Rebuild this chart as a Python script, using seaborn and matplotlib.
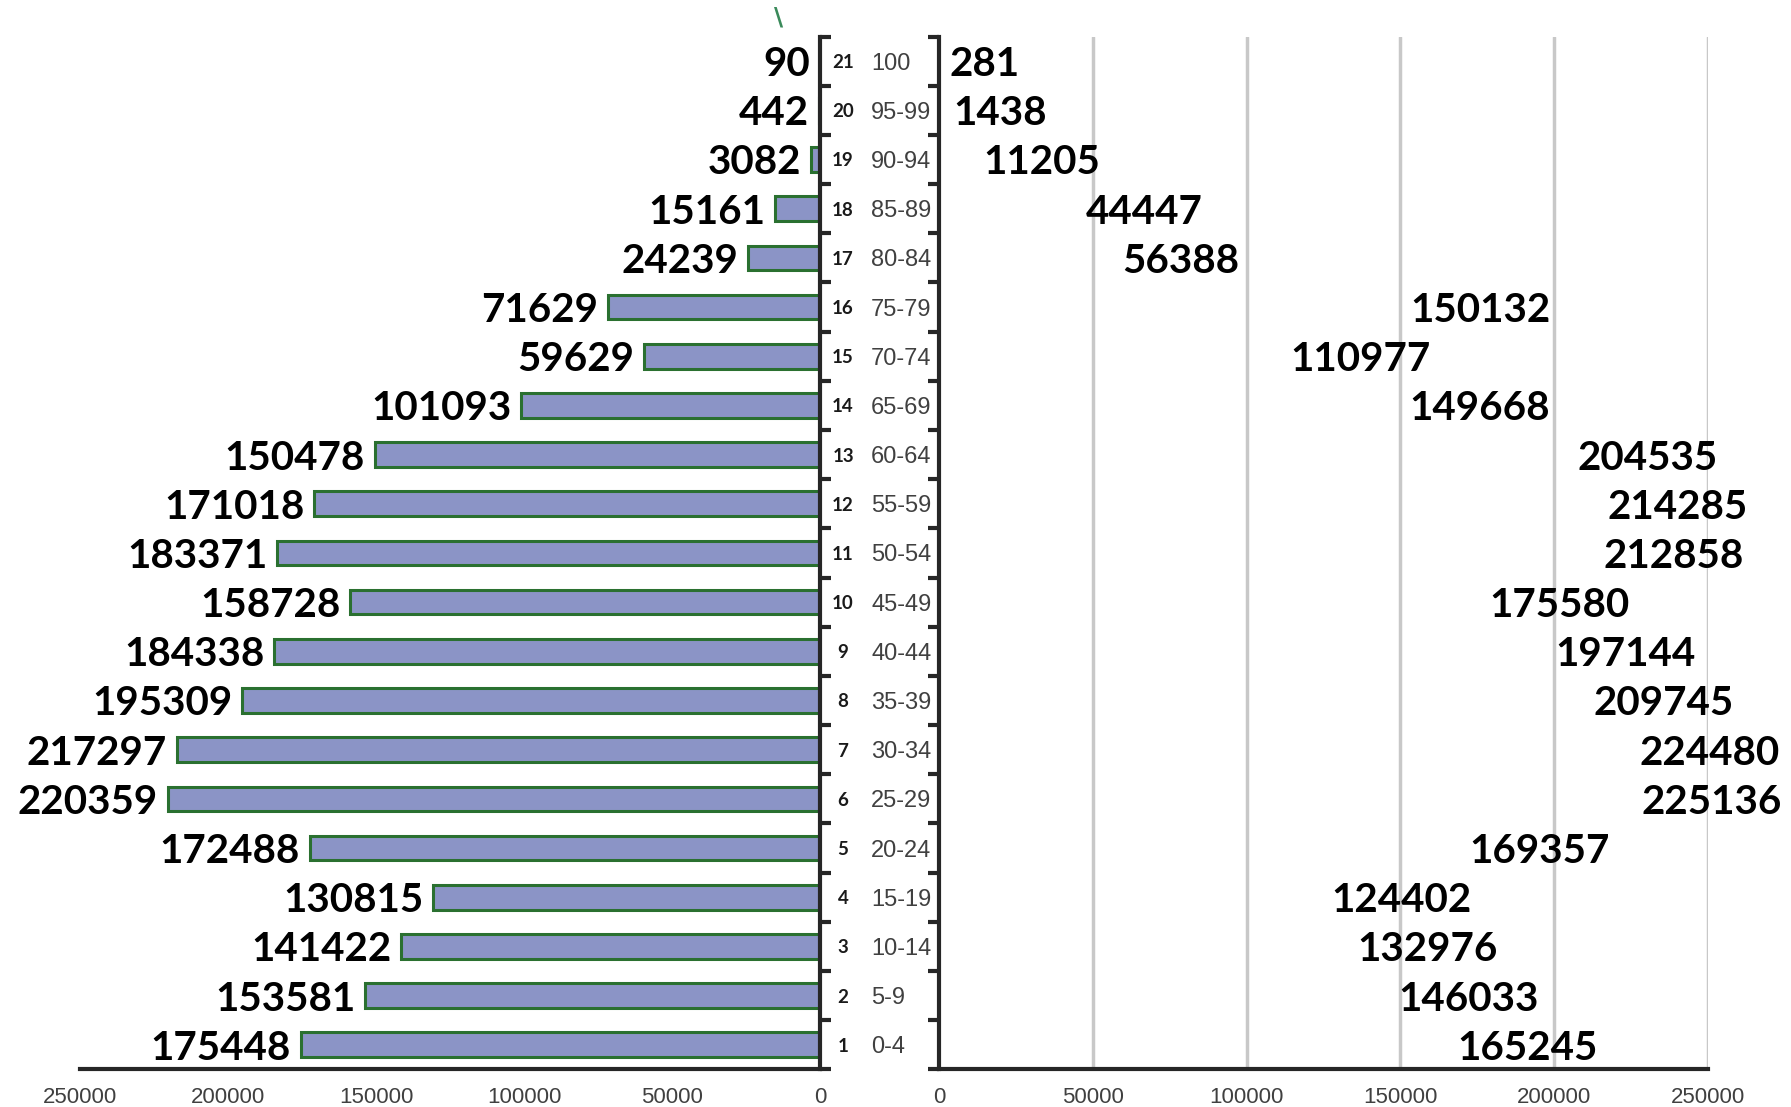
import numpy as np
import pandas as pd
import matplotlib.pyplot as plt
import seaborn as sns

# age groups bottom -> top
age_groups = ["0-4", "5-9", "10-14", "15-19", "20-24", "25-29", "30-34", "35-39",
              "40-44", "45-49", "50-54", "55-59", "60-64", "65-69", "70-74", "75-79",
              "80-84", "85-89", "90-94", "95-99", "100"]
group_no = list(range(1, 22))
left_vals = [175448, 153581, 141422, 130815, 172488, 220359, 217297, 195309,
             184338, 158728, 183371, 171018, 150478, 101093, 59629, 71629,
             24239, 15161, 3082, 442, 90]
right_vals = [165245, 146033, 132976, 124402, 169357, 225136, 224480, 209745,
              197144, 175580, 212858, 214285, 204535, 149668, 110977, 150132,
              56388, 44447, 11205, 1438, 281]
x_ticks = [0, 50000, 100000, 150000, 200000, 250000]

df = pd.DataFrame({"age": age_groups, "no": group_no,
                   "left": left_vals, "right": right_vals})
order = age_groups[::-1]  # top row first
by_age = df.set_index("age").loc[order]

sns.set_style("white")
plt.rcParams["font.family"] = ["Lato", "DejaVu Sans"]
tick_font = ["Liberation Sans Narrow", "Liberation Sans", "DejaVu Sans"]

fig = plt.figure(figsize=(17.91, 11.07), dpi=100)
bottom, height = 0.0340, 0.9330
ax_l = fig.add_axes([0.0447, bottom, 0.4132, height])
ax_r = fig.add_axes([0.5243, bottom, 0.4294, height])

sns.barplot(data=df, x="left", y="age", order=order, orient="h", ax=ax_l,
            color="#8B94C6", edgecolor="#2A7030", linewidth=2.2, width=0.5,
            saturation=1)
sns.barplot(data=df, x="right", y="age", order=order, orient="h", ax=ax_r,
            color="white", alpha=0, width=0.5)

ax_l.set_xlim(250000, 0)
ax_r.set_xlim(0, 250000)
for ax in (ax_l, ax_r):
    ax.set_ylim(20.5, -0.5)
    ax.set_xlabel("")
    ax.set_ylabel("")
    ax.set_yticks(np.arange(-0.5, 21, 1))
    ax.set_yticklabels([])
    ax.set_xticks(x_ticks)
    ax.set_xticklabels([str(t) for t in x_ticks], family=tick_font,
                       fontsize=16, color="#404040")
    ax.tick_params(axis="x", direction="inout", length=12, width=3, pad=7)
    ax.tick_params(axis="y", direction="out", length=8, width=3)
    ax.spines["top"].set_visible(False)
    ax.spines["bottom"].set_linewidth(3)

# left panel: axis line on the right side
ax_l.spines["left"].set_visible(False)
ax_l.spines["right"].set_linewidth(3)
ax_l.yaxis.tick_right()

# right panel: axis line on the left, grey gridlines
ax_r.spines["right"].set_visible(False)
ax_r.spines["left"].set_linewidth(3)
ax_r.yaxis.tick_left()
for t in x_ticks[1:]:
    ax_r.axvline(t, color="#C8C8C8", linewidth=2.5, zorder=0)

# value labels
ax_l.bar_label(ax_l.containers[0], labels=[f"{v}" for v in by_age["left"]],
               padding=7, fontsize=29, fontweight="bold", color="black")
ax_r.bar_label(ax_r.containers[0], labels=[f"{v}" for v in by_age["right"]],
               padding=7, fontsize=29, fontweight="bold", color="black")
for ax in (ax_l, ax_r):
    for t in ax.texts:
        t.set_va("center_baseline")

# middle labels: group number and age range
for i, age in enumerate(order):
    no = by_age.loc[age, "no"]
    ax_l.text(1.031, i, str(no), transform=ax_l.get_yaxis_transform(),
              ha="center", va="center_baseline", fontsize=13.5, fontweight="bold",
              color="#1A1A1A")
    ax_l.text(1.069, i, age, transform=ax_l.get_yaxis_transform(),
              ha="left", va="center_baseline", fontsize=17, color="#404040",
              family=tick_font)

fig.text(0.4345, 0.984, "\\", color="#3A8A5A", fontsize=18, fontweight="bold",
         ha="center", va="center", family="DejaVu Sans")

fig.savefig("out.png", dpi=100)
